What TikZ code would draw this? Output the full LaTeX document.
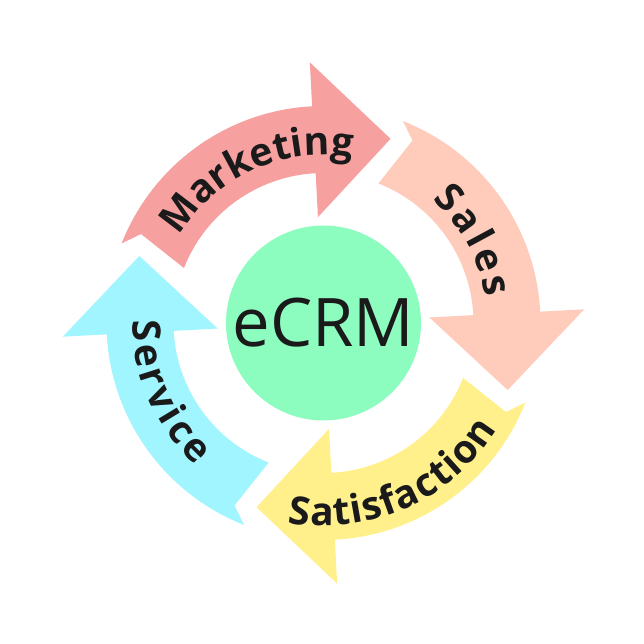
\documentclass[tikz,border=0pt]{standalone}
\usepackage{fontspec}
\setmainfont{Open Sans}
\usetikzlibrary{decorations.text}
\definecolor{mkcol}{HTML}{F7A0A0}
\definecolor{slcol}{HTML}{FFCBBB}
\definecolor{stcol}{HTML}{FFF08C}
\definecolor{svcol}{HTML}{A0F5FF}
\definecolor{corecol}{HTML}{8CFDBF}
\definecolor{lblcol}{HTML}{1A1A1A}
\newcommand\cyclearrowpath{(158.5:217) arc[start angle=158.5, end angle=93, radius=217] -- (93:261) -- (70:196) -- (93:106) -- (93:150) arc[start angle=93, end angle=158.5, radius=150] -- (154:203) -- cycle}
\newcommand\lblfont{\fontsize{39}{39}\selectfont\bfseries\color{lblcol}}
\begin{document}
\begin{tikzpicture}[x=1pt,y=1pt,
  lbl/.style={decorate, decoration={text along path, text align=fit to path, text={|\lblfont|#1}}}]
\useasboundingbox (-323.5,-321) rectangle (320.5,323);
\fill[white] (-323.5,-321) rectangle (320.5,323);
% arrows
\fill[mkcol] \cyclearrowpath;
\begin{scope}[rotate=-90]\fill[slcol] \cyclearrowpath;\end{scope}
\begin{scope}[rotate=-180]\fill[stcol] \cyclearrowpath;\end{scope}
\begin{scope}[rotate=-270]\fill[svcol] \cyclearrowpath;\end{scope}
% labels
\path[lbl=Marketing] (149:168) arc[start angle=149, end angle=82.7, radius=168];
\path[lbl=Sales] (48.6:164) arc[start angle=48.6, end angle=9, radius=164];
\path[lbl=Satisfaction] (259.8:203) arc[start angle=259.8, end angle=328.5, radius=203];
\path[lbl=Service] (179.3:191) arc[start angle=179.3, end angle=228.3, radius=191];
% centre
\node[circle, fill=corecol, minimum size=195pt, inner sep=0pt, text=lblcol, font=\fontsize{67}{67}\selectfont] (core) at (0,0) {eCRM};
\end{tikzpicture}
\end{document}
